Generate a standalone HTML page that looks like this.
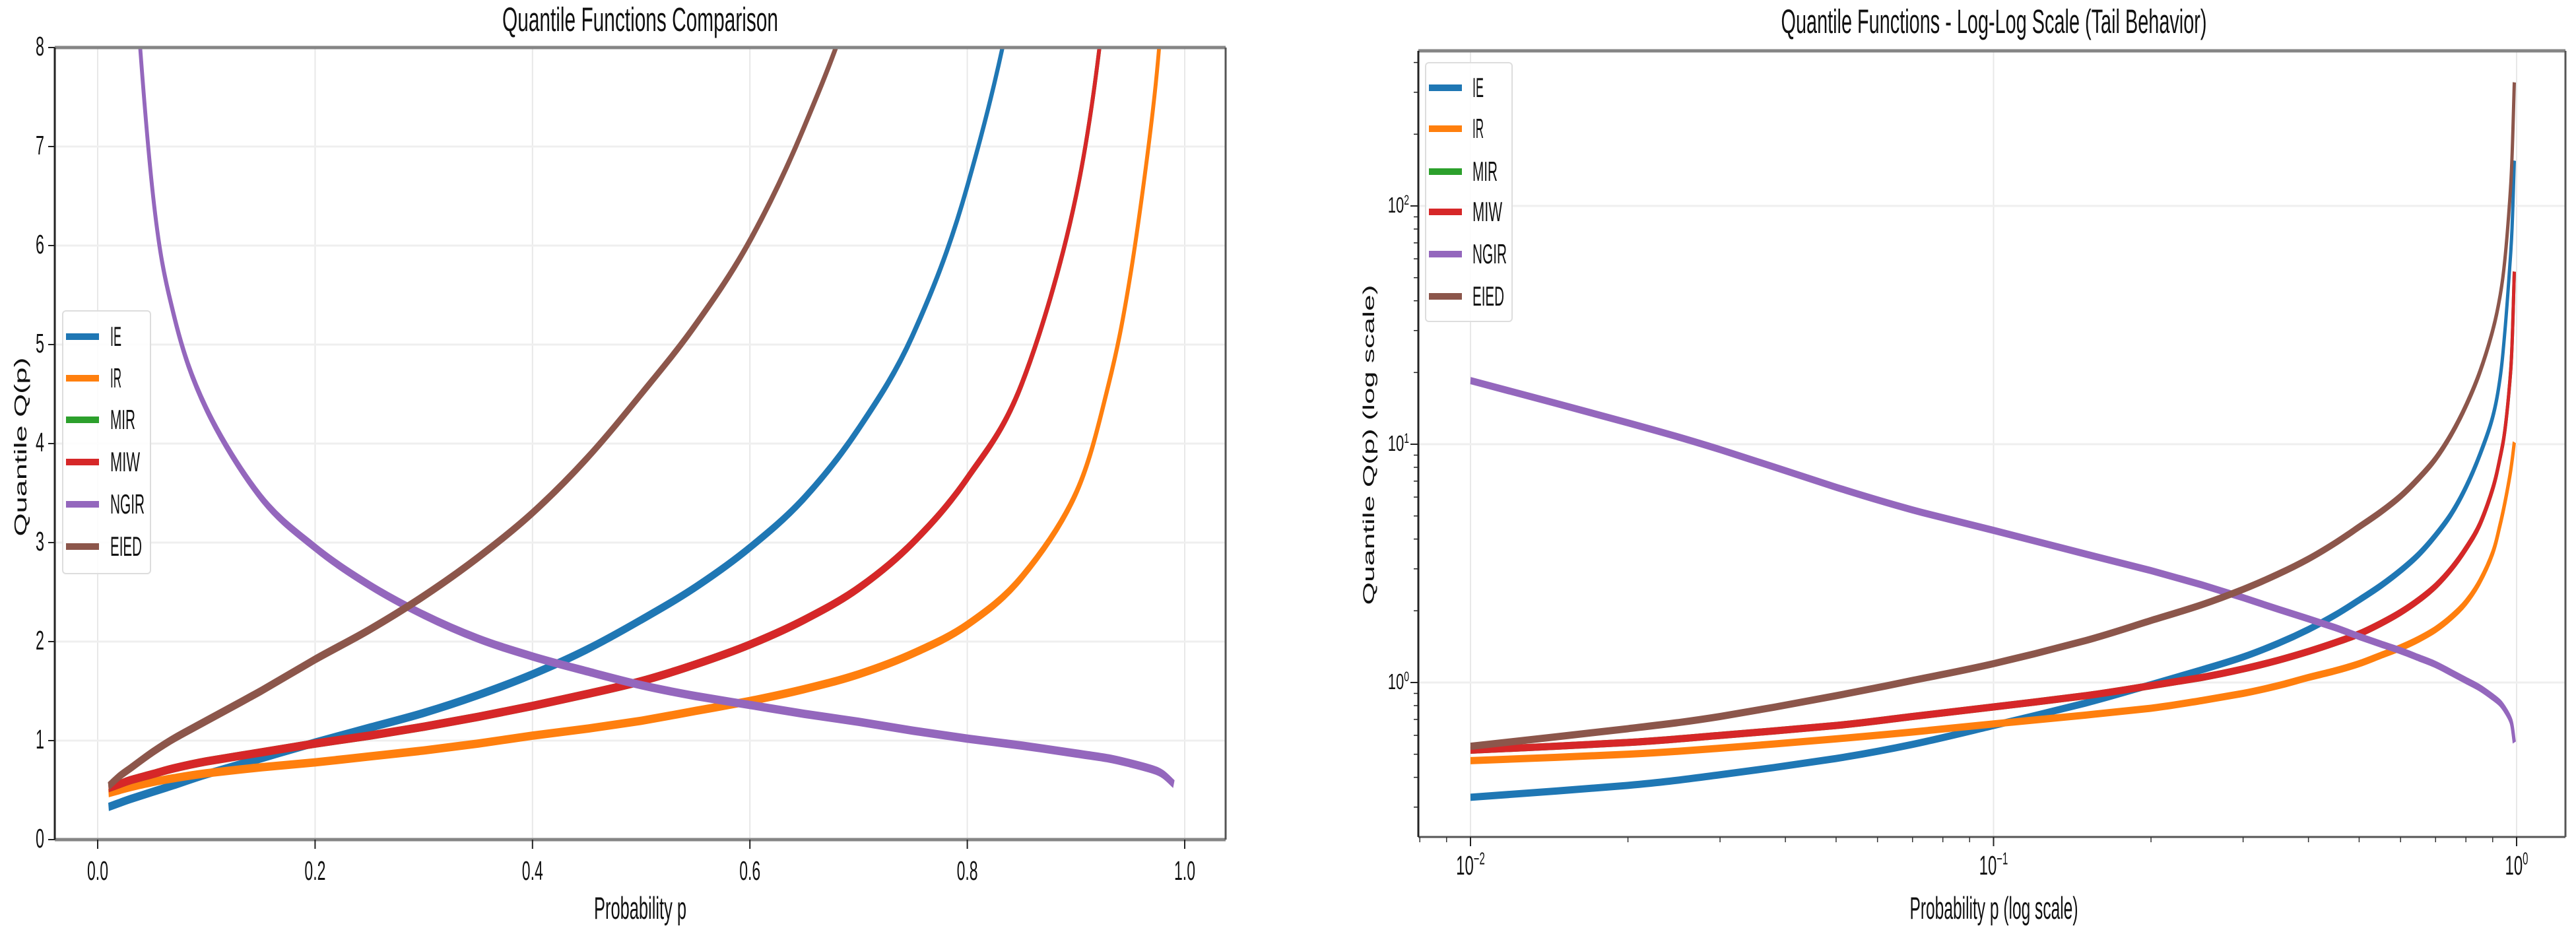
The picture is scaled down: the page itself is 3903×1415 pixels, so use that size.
<!DOCTYPE html>
<html><head><meta charset="utf-8"><title>Quantile Functions</title>
<style>
html,body{margin:0;padding:0;background:#fff;}
svg{display:block;}
text{font-family:"Liberation Sans","DejaVu Sans",sans-serif;fill:#111;}
</style></head>
<body>
<svg id="fig" xmlns="http://www.w3.org/2000/svg" width="3903" height="1415" viewBox="0 0 3903 1415">
<rect x="0" y="0" width="3903" height="1415" fill="#fff"/>
</svg>
<script>
// ---- data ----
const probs = [0.01,0.02,0.03,0.05,0.07,0.1,0.15,0.2,0.25,0.3,0.35,0.4,0.45,0.5,0.55,0.6,0.65,0.7,0.75,0.8,0.85,0.9,0.93,0.95,0.97,0.98,0.99];
const ieVals   = [0.33,0.37,0.41,0.48,0.55,0.66,0.82,0.98,1.13,1.28,1.46,1.67,1.92,2.22,2.55,2.95,3.45,4.15,5.1,6.6,9.0,13,19,30,55,80,155];
const irVals   = [0.47,0.5,0.53,0.58,0.62,0.67,0.73,0.78,0.84,0.9,0.97,1.05,1.12,1.2,1.3,1.4,1.52,1.67,1.88,2.17,2.65,3.5,4.6,5.7,7.3,8.5,10.2];
const mirVals  = [0.52,0.56,0.6,0.66,0.72,0.79,0.88,0.97,1.05,1.14,1.24,1.35,1.47,1.6,1.77,1.97,2.22,2.54,3.0,3.65,4.6,6.5,8.8,11.5,18,26,53];
const miwVals  = [0.52,0.56,0.6,0.66,0.72,0.79,0.88,0.97,1.05,1.14,1.24,1.35,1.47,1.6,1.77,1.97,2.22,2.54,3.0,3.65,4.6,6.5,8.8,11.5,18,26,53];
const ngirVals = [18.5,12.3,9.5,6.6,5.3,4.35,3.46,2.95,2.57,2.27,2.03,1.85,1.7,1.56,1.45,1.36,1.27,1.19,1.1,1.02,0.95,0.87,0.82,0.77,0.71,0.66,0.56];
const eiedVals = [0.54,0.64,0.72,0.88,1.02,1.2,1.5,1.82,2.12,2.46,2.85,3.3,3.85,4.5,5.2,6.05,7.2,8.7,11,14.5,20,30,42,60,105,160,330];
const seriesNames = ["IE","IR","MIR","MIW","NGIR","EIED"];
const linTickVals = [0,0.2,0.4,0.6,0.8,1.0];
const linTickLabels = ["0.0","0.2","0.4","0.6","0.8","1.0"];
const linYTicks = [0,1,2,3,4,5,6,7,8];
const logXTicks = [-2,-1,0];
const logYTicks = [0,1,2];

const seriesData = [ieVals,irVals,mirVals,miwVals,ngirVals,eiedVals];
const colors = ["#1f77b4","#ff7f0e","#2ca02c","#d62728","#9467bd","#8c564b"];
const NS = "http://www.w3.org/2000/svg";
const svg = document.getElementById("fig");
const S = 2.2;
const TS = 1.7;

const L = {x0:83,x1:1857,y0:72,y1:1272};
const R = {x0:2149,x1:3887,y0:77,y1:1268};
function lx(p){return 148+1647*p;}
function ly(v){return 1272-150*v;}
function rx(p){return 2228+792.5*(Math.log10(p)+2);}
function ry(v){return 1034-361*Math.log10(v);}

function mk(tag, attrs, parent){
  const e=document.createElementNS(NS,tag);
  for(const k in attrs) e.setAttribute(k,attrs[k]);
  (parent||svg).appendChild(e);
  return e;
}
function txt(s,x,y,size,anchor,len,parent,sy){
  const t=mk("text",{transform:"translate("+x+","+y+") scale(1,"+(sy||TS)+")","font-size":size,"text-anchor":anchor||"middle"},parent);
  if(len){t.setAttribute("textLength",len);t.setAttribute("lengthAdjust","spacingAndGlyphs");}
  t.textContent=s;
  return t;
}
function smoothPath(pts){
  let d="M"+pts[0][0].toFixed(2)+","+pts[0][1].toFixed(2);
  for(let i=0;i<pts.length-1;i++){
    const p0=pts[Math.max(0,i-1)],p1=pts[i],p2=pts[i+1],p3=pts[Math.min(pts.length-1,i+2)];
    const c1=[p1[0]+(p2[0]-p0[0])/6,p1[1]+(p2[1]-p0[1])/6];
    const c2=[p2[0]-(p3[0]-p1[0])/6,p2[1]-(p3[1]-p1[1])/6];
    d+=" C"+c1[0].toFixed(2)+","+c1[1].toFixed(2)+" "+c2[0].toFixed(2)+","+c2[1].toFixed(2)+" "+p2[0].toFixed(2)+","+p2[1].toFixed(2);
  }
  return d;
}

// ===== LEFT PLOT =====
const gl=mk("g",{});


linTickVals.forEach(v=>{
  const g=mk("line",{x1:lx(v),x2:lx(v),y1:L.y0,y2:L.y1,stroke:"#e8e8e8","stroke-width":2},gl);
  
  
});
linYTicks.forEach(v=>{
  const g=mk("line",{x1:L.x0,x2:L.x1,y1:ly(v),y2:ly(v),stroke:"#efefef","stroke-width":3},gl);
  
  
});
const defs=mk("defs",{});
const cpL=mk("clipPath",{id:"clipL"},defs);
mk("rect",{x:L.x0,y:L.y0/S,width:L.x1-L.x0,height:(L.y1-L.y0)/S},cpL);
const cpR=mk("clipPath",{id:"clipR"},defs);
mk("rect",{x:R.x0,y:R.y0/S,width:R.x1-R.x0,height:(R.y1-R.y0)/S},cpR);

const linesL=mk("g",{transform:"scale(1,"+S+")","clip-path":"url(#clipL)"},gl);
seriesData.forEach((vals,i)=>{
  const pts=probs.map((p,j)=>[lx(p),ly(vals[j])/S]);
  const path=mk("path",{d:smoothPath(pts),fill:"none",stroke:colors[i],"stroke-width":5.8,"stroke-linecap":"butt","stroke-linejoin":"round"},linesL);
  
  
});
mk("line",{x1:L.x0,x2:L.x1,y1:L.y0,y2:L.y0,stroke:"#858585","stroke-width":5},gl);
mk("line",{x1:L.x0,x2:L.x1,y1:L.y1,y2:L.y1,stroke:"#858585","stroke-width":5},gl);
mk("line",{x1:L.x0,x2:L.x0,y1:L.y0,y2:L.y1,stroke:"#222","stroke-width":3},gl);
mk("line",{x1:L.x1,x2:L.x1,y1:L.y0,y2:L.y1,stroke:"#555","stroke-width":3},gl);
linTickVals.forEach((v,i)=>{
  mk("line",{x1:lx(v),x2:lx(v),y1:L.y1,y2:L.y1+14,stroke:"#222","stroke-width":2},gl);
  const t=txt(linTickLabels[i],lx(v),1333,24,"middle",32,gl);
  
  
});
linYTicks.forEach(v=>{
  mk("line",{x1:L.x0-10,x2:L.x0,y1:ly(v),y2:ly(v),stroke:"#222","stroke-width":2},gl);
  const t=txt(String(v),67,ly(v)+12,24,"end",13,gl);
  
  
});
const tl=txt("Quantile Functions Comparison",970,47,30,"middle",418,gl);


const xl=txt("Probability p",970,1392,28,"middle",140,gl);


const yl=mk("text",{transform:"translate(40,677) rotate(-90)","font-size":26,"text-anchor":"middle",textLength:271,lengthAdjust:"spacingAndGlyphs"},gl);
yl.textContent="Quantile Q(p)";



const legendWidths = [17,17,38,45,52,48];
function legend(parent,bx,by,bw,bh,rowY,lineX0,lineX1,textX,name){
  const lg=mk("g",{},parent);
  
  
  mk("rect",{x:bx,y:by,width:bw,height:bh,rx:5,fill:"#fff","fill-opacity":0.85,stroke:"#dddddd","stroke-width":2},lg);
  seriesNames.forEach((n,i)=>{
    const e=mk("g",{},lg);
    
    
    mk("line",{x1:lineX0,x2:lineX1,y1:rowY[i],y2:rowY[i],stroke:colors[i],"stroke-width":10},e);
    txt(n,textX,rowY[i]+14,24,"start",legendWidths[i],e,1.75);
  });
}
legend(gl,95,471,133,398,[510,573,636,700,764,828],100,150,167,"left-legend");

// ===== RIGHT PLOT =====
const gr=mk("g",{});


logXTicks.forEach(e=>{
  const g=mk("line",{x1:rx(Math.pow(10,e)),x2:rx(Math.pow(10,e)),y1:R.y0,y2:R.y1,stroke:"#e8e8e8","stroke-width":2},gr);
  
  
});
logYTicks.forEach(e=>{
  const g=mk("line",{x1:R.x0,x2:R.x1,y1:ry(Math.pow(10,e)),y2:ry(Math.pow(10,e)),stroke:"#efefef","stroke-width":3},gr);
  
  
});
const linesR=mk("g",{transform:"scale(1,"+S+")","clip-path":"url(#clipR)"},gr);
seriesData.forEach((vals,i)=>{
  const pts=probs.map((p,j)=>[rx(p),ry(vals[j])/S]);
  const path=mk("path",{d:smoothPath(pts),fill:"none",stroke:colors[i],"stroke-width":5,"stroke-linejoin":"round"},linesR);
  
  
});
mk("line",{x1:R.x0,x2:R.x1,y1:R.y0,y2:R.y0,stroke:"#858585","stroke-width":5},gr);
mk("line",{x1:R.x0,x2:R.x1,y1:R.y1,y2:R.y1,stroke:"#555","stroke-width":3},gr);
mk("line",{x1:R.x0,x2:R.x0,y1:R.y0,y2:R.y1,stroke:"#222","stroke-width":3},gr);
mk("line",{x1:R.x1,x2:R.x1,y1:R.y0,y2:R.y1,stroke:"#555","stroke-width":3},gr);
for(let e=-3;e<=0;e++){
  for(let m=1;m<=9;m++){
    const p=m*Math.pow(10,e);
    const x=rx(p);
    if(x<R.x0||x>R.x1) continue;
    if(m===1){
      mk("line",{x1:x,x2:x,y1:R.y1,y2:R.y1+14,stroke:"#222","stroke-width":2},gr);
    }else{
      mk("line",{x1:x,x2:x,y1:R.y1,y2:R.y1+8,stroke:"#333","stroke-width":1.5},gr);
    }
  }
}
logXTicks.forEach(e=>{
  const t=mk("text",{transform:"translate("+rx(Math.pow(10,e))+",1325) scale(1,"+TS+")","font-size":24,"text-anchor":"middle"},gr);
  
  
  const a=mk("tspan",{},t); a.textContent="10";
  const b=mk("tspan",{dy:-9,"font-size":15}); t.appendChild(b); b.textContent=(e<0?"\u2212":"")+Math.abs(e);
});
for(let e=-1;e<=2;e++){
  for(let m=1;m<=9;m++){
    const v=m*Math.pow(10,e);
    const y=ry(v);
    if(y<R.y0||y>R.y1) continue;
    mk("line",{x1:R.x0-(m===1?12:7),x2:R.x0,y1:y,y2:y,stroke:"#222","stroke-width":m===1?2:1.5},gr);
  }
}
logYTicks.forEach(e=>{
  const t=mk("text",{transform:"translate(2135,"+(ry(Math.pow(10,e))+10)+") scale(1,1.5)","font-size":22,"text-anchor":"end"},gr);
  
  
  const a=mk("tspan",{},t); a.textContent="10";
  const b=mk("tspan",{dy:-8,"font-size":14}); t.appendChild(b); b.textContent=String(e);
});
const tr=txt("Quantile Functions - Log-Log Scale (Tail Behavior)",3021,50,30,"middle",645,gr);


const xr=txt("Probability p (log scale)",3021,1392,28,"middle",255,gr);


const yr=mk("text",{transform:"translate(2082,674) rotate(-90)","font-size":24,"text-anchor":"middle",textLength:485,lengthAdjust:"spacingAndGlyphs"},gr);
yr.textContent="Quantile Q(p) (log scale)";


legend(gr,2160,95,131,392,[133,195,260,321,385,449],2165,2215,2231,"right-legend");
</script>
</body></html>
